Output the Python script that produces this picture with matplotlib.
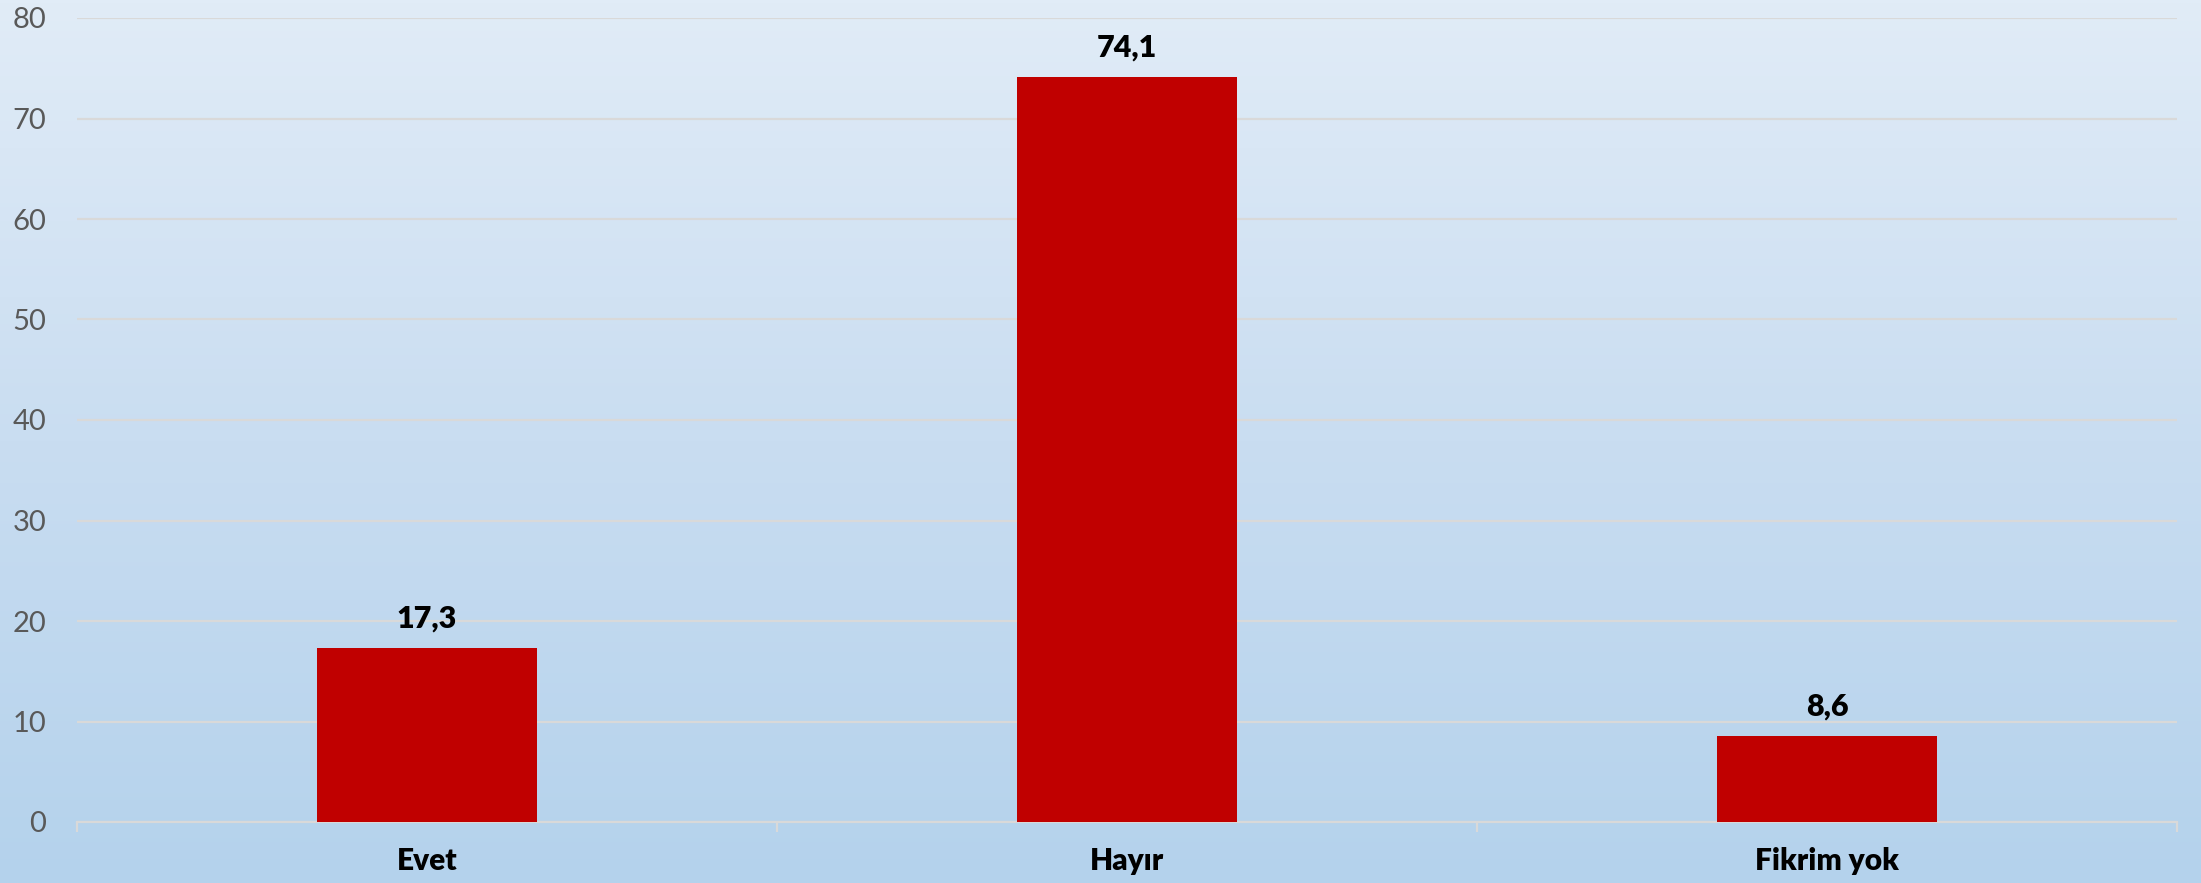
import numpy as np
import matplotlib
matplotlib.use("Agg")
import matplotlib.pyplot as plt
from matplotlib.colors import LinearSegmentedColormap

categories = ["Evet", "Hayır", "Fikrim yok"]
values = [17.3, 74.1, 8.6]
value_labels = ["17,3", "74,1", "8,6"]
y_ticks = [0, 10, 20, 30, 40, 50, 60, 70, 80]

plt.rcParams['font.family'] = ['Lato', 'DejaVu Sans']

W, H, DPI = 2201, 883, 100
fig = plt.figure(figsize=(W / DPI, H / DPI), dpi=DPI)

# background gradient over whole figure
bg = fig.add_axes([0, 0, 1, 1], zorder=-10)
cmap = LinearSegmentedColormap.from_list("bg", ["#e1ecf7", "#c9ddf1", "#b4d2ec"])
grad = np.linspace(0, 1, 256).reshape(-1, 1)
bg.imshow(grad, aspect="auto", cmap=cmap, extent=[0, 1, 0, 1], origin="upper")
bg.axis("off")

left, right, top, bottom = 77, 2177, 18, 822
ax = fig.add_axes([left / W, 1 - bottom / H, (right - left) / W, (bottom - top) / H])
ax.patch.set_alpha(0)

x = np.arange(len(categories))
ax.bar(x, values, width=0.313, color="#c00000", zorder=3)
for xi, v, lab in zip(x, values, value_labels):
    ax.annotate(lab, (xi, v), xytext=(0, 11), textcoords="offset points",
                ha="center", va="bottom", fontsize=22, fontweight="heavy", color="black")

ax.set_xlim(-0.5, len(categories) - 0.5)
ax.set_ylim(0, 80)
ax.set_yticks(y_ticks)
ax.yaxis.grid(True, color="#d9d9d9", linewidth=1.6, zorder=0)
ax.set_axisbelow(True)
ax.tick_params(axis="y", length=0, pad=22, labelsize=21, labelcolor="#595959")

ax.set_xticks(x)
ax.set_xticklabels(categories, fontsize=21.5, fontweight="heavy", color="black")
ax.set_xticks(np.arange(-0.5, len(categories)), minor=True)
ax.tick_params(axis="x", which="major", length=0, pad=18)
ax.tick_params(axis="x", which="minor", length=7, width=1.6, color="#d9d9d9")

for s in ["top", "right", "left"]:
    ax.spines[s].set_visible(False)
ax.spines["bottom"].set_color("#d9d9d9")
ax.spines["bottom"].set_linewidth(1.6)

fig.savefig("out.png", dpi=DPI)
